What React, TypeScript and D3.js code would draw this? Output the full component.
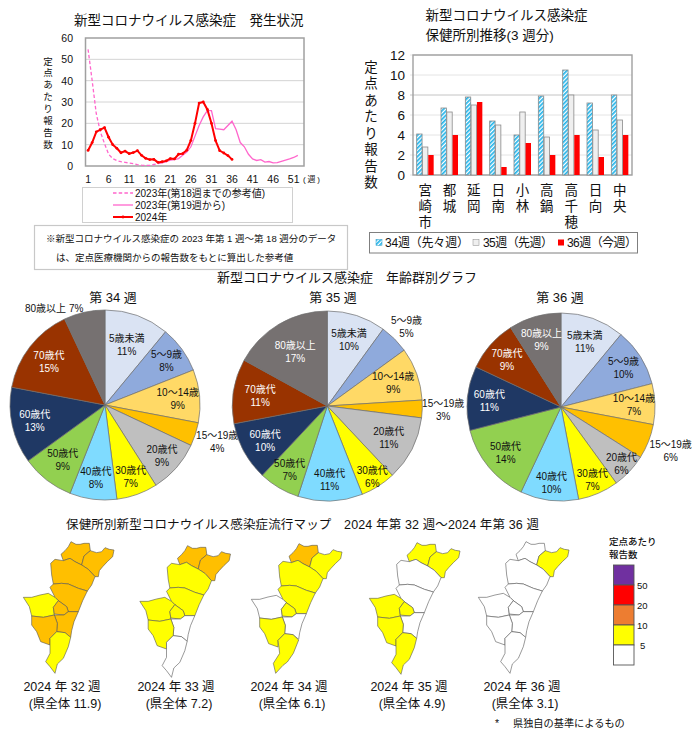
import React from "react";
import * as d3 from "d3";

const FONT = "'Liberation Sans', 'Noto Sans CJK JP', sans-serif";

// weekly counts
const weeks = d3.range(1, 54);
const tickWeeks = [1, 6, 11, 16, 21, 26, 31, 36, 41, 46, 51];
const lineTicks = [0, 10, 20, 30, 40, 50, 60];
const ref2023 = [54.7, 40, 24.5, 16, 10.5, 5.5, 3.5, 2.5, 2, 1.7, 1.4, 1.1, 0.6, 0.4, 0.3, 0.3, 0.7, 1.1];
// starts at week 18
const from2023 = [1.1, 1.5, 2, 2.8, 3, 3.5, 5, 6.5, 9, 14, 19, 23, 26, 26, 17.5, 17.3, 17, 19, 21, 17, 11, 9, 5.5, 3.3, 2.6, 3, 1.8, 2.1, 1.5, 1.6, 2.2, 2.8, 3.3, 4, 5];
const values2024 = [7.3, 11, 16, 17, 18, 13.5, 10, 8.3, 6.2, 7, 5.8, 6.3, 7.2, 5, 3.6, 3, 3.1, 1.7, 2, 2.4, 3.5, 3.3, 5.5, 5.8, 7.4, 12, 20, 29.5, 30, 26.5, 20, 11.9, 7.2, 6.1, 4.9, 3.1];

// health centres
const centres = ["宮崎市", "都城", "延岡", "日南", "小林", "高鍋", "高千穂", "日向", "中央"];
const barTicks = [0, 2, 4, 6, 8, 10, 12];
const week34 = [4.1, 6.7, 7.8, 5.4, 4, 7.9, 10.5, 7.2, 8];
const week35 = [2.8, 6.3, 7, 5, 6.3, 3.8, 8, 4.5, 5.5];
const week36 = [2, 4, 7.3, 0.8, 3.2, 2, 4, 1.8, 4];

// age groups
const ageGroups = ["5歳未満", "5～9歳", "10～14歳", "15～19歳", "20歳代", "30歳代", "40歳代", "50歳代", "60歳代", "70歳代", "80歳以上"];
const ageColors = ["#DAE3F3", "#8FAADC", "#FFD966", "#FFC000", "#BFBFBF", "#FFFF00", "#7FDBFF", "#92D050", "#1F3864", "#993300", "#767171"];
const agePct34 = [11, 8, 9, 4, 9, 7, 8, 9, 13, 15, 7];
const agePct35 = [10, 5, 9, 3, 11, 6, 11, 7, 10, 11, 17];
const agePct36 = [11, 10, 7, 6, 6, 7, 10, 14, 11, 9, 9];
const labelR34 = [64, 76, 73, 118, 76, 76, 73, 69, 72, 71, 0];
const labelR35 = [70, 112, 70, 116, 69, 84, 74, 74, 71, 68, 63];
const labelR36 = [70, 74, 73, 118, 83, 79, 76, 72, 72, 72, 70];

// map: outlines in crop pixels, 3 units to one screen pixel
const regionNames = ["高千穂", "延岡", "日向", "高鍋", "小林", "中央", "宮崎市", "都城", "日南"];
const regionOutlines: [number, number][][] = [
  [[183, 133], [195, 122], [205, 110], [213, 95], [228, 103], [240, 103], [252, 100], [268, 100], [271, 122], [252, 138], [245, 165], [225, 155], [210, 145], [190, 152]],
  [[271, 122], [290, 128], [305, 125], [315, 113], [328, 118], [342, 120], [338, 140], [322, 155], [308, 170], [298, 182], [295, 200], [285, 200], [265, 178], [245, 165], [252, 138]],
  [[152, 160], [165, 148], [190, 152], [210, 145], [225, 155], [245, 165], [265, 178], [285, 200], [275, 225], [262, 243], [235, 235], [205, 222], [185, 220], [160, 222], [155, 195]],
  [[150, 232], [160, 222], [185, 220], [205, 222], [235, 235], [262, 243], [248, 272], [235, 305], [205, 305], [200, 290], [175, 272], [165, 262]],
  [[70, 262], [95, 262], [120, 255], [145, 250], [165, 262], [175, 272], [160, 292], [163, 315], [130, 322], [95, 318], [88, 290]],
  [[175, 272], [200, 290], [205, 305], [192, 315], [163, 312], [160, 292]],
  [[163, 315], [192, 315], [205, 305], [235, 305], [222, 335], [215, 362], [212, 382], [195, 368], [170, 365], [172, 340]],
  [[95, 318], [130, 322], [163, 315], [172, 340], [170, 365], [150, 385], [150, 405], [122, 395], [110, 365], [95, 345]],
  [[170, 365], [195, 368], [212, 382], [205, 410], [190, 445], [172, 462], [165, 490], [150, 470], [137, 455], [150, 430], [150, 385]],
];
// week 34 map has the southern region drawn a little further west
const southAlt: [number, number][] = [[150, 385], [170, 365], [195, 368], [212, 384], [196, 424], [178, 450], [165, 460], [143, 484], [136, 454], [155, 424]];

// colour class index per region, same order as regionNames
const mapColors = ["#FFFFFF", "#FFFF00", "#FFBF00"];
const mapWeeks = [
  { line1: "2024 年 32 週", line2: "(県全体 11.9)", classes: [2, 2, 2, 2, 1, 2, 2, 2, 1] },
  { line1: "2024 年 33 週", line2: "(県全体 7.2)", classes: [2, 2, 1, 1, 1, 1, 0, 1, 0] },
  { line1: "2024 年 34 週", line2: "(県全体 6.1)", classes: [2, 1, 1, 1, 0, 1, 0, 1, 1] },
  { line1: "2024 年 35 週", line2: "(県全体 4.9)", classes: [1, 1, 0, 0, 1, 1, 0, 1, 1] },
  { line1: "2024 年 36 週", line2: "(県全体 3.1)", classes: [0, 1, 0, 0, 0, 0, 0, 0, 0] },
];
const mapDx = [0, 116.5, 228, 346, 455];
const mapDy = [0, 4, 2, 1, 0];
const captionX = [62, 176, 289, 409, 522];

const legendColors = ["#7030A0", "#FF0000", "#ED7D31", "#FFFF00", "#FFFFFF"];
const legendLabels = ["50", "20", "10", "5"];

const PINK = "#FF66CC";

function VerticalText({ text, x, y, step, size }: { text: string; x: number; y: number; step: number; size: number }) {
  return (
    <g fontSize={size} textAnchor="middle">
      {Array.from(text).map((c, i) => (
        <text key={i} x={x} y={y + i * step} dominantBaseline="central">{c}</text>
      ))}
    </g>
  );
}

function LineChart() {
  const x = d3.scaleBand<number>().domain(weeks).range([86, 304]);
  const y = d3.scaleLinear().domain([0, 60]).range([166, 38]);
  const cx = (w: number) => x(w)! + x.bandwidth() / 2;
  const line = d3.line<number>().x((_, i) => cx(i + 1)).y((d) => y(d));
  const lineFrom = d3.line<number>().x((_, i) => cx(i + 18)).y((d) => y(d));
  return (
    <g>
      <text x={74} y={20} fontSize={13.5} dominantBaseline="central">新型コロナウイルス感染症　発生状況</text>
      {lineTicks.map((t) => (
        <g key={t}>
          {t > 0 && t < 60 && <line x1={86} x2={304} y1={y(t)} y2={y(t)} stroke="#d4d4d4" strokeWidth={1} />}
          <text x={73} y={y(t)} fontSize={10.5} textAnchor="end" dominantBaseline="central">{t}</text>
        </g>
      ))}
      <rect x={85.5} y={38} width={218.5} height={128} fill="none" stroke="#a0a0a0" strokeWidth={1.5} />
      {tickWeeks.map((w) => (
        <text key={w} x={cx(w)} y={179} fontSize={10.5} textAnchor="middle" dominantBaseline="central">{w}</text>
      ))}
      <text x={303} y={179} fontSize={8} dominantBaseline="central" textLength={17}>(週)</text>
      <path d={line(ref2023)!} fill="none" stroke={PINK} strokeWidth={1.3} strokeDasharray="3.5 2.2" />
      <path d={lineFrom(from2023)!} fill="none" stroke={PINK} strokeWidth={1.3} />
      <path d={line(values2024)!} fill="none" stroke="#FF0000" strokeWidth={2} />
      {values2024.map((v, i) => (
        <circle key={i} cx={cx(i + 1)} cy={y(v)} r={1.4} fill="#FF0000" />
      ))}
      <VerticalText text="定点あたり報告数" x={48} y={61} step={11.9} size={9.5} />
      <rect x={82.5} y={187.5} width={210} height={35} fill="#fff" stroke="#d0d0d0" strokeWidth={1} />
      <line x1={113} x2={133} y1={193} y2={193} stroke={PINK} strokeWidth={1.3} strokeDasharray="3.5 2.2" />
      <line x1={113} x2={133} y1={205} y2={205} stroke={PINK} strokeWidth={1.3} />
      <line x1={113} x2={133} y1={217} y2={217} stroke="#FF0000" strokeWidth={2} />
      <circle cx={123} cy={217} r={1.4} fill="#FF0000" />
      <g fontSize={10} dominantBaseline="central">
        <text x={135} y={193}>2023年(第18週までの参考値)</text>
        <text x={135} y={205}>2023年(第19週から)</text>
        <text x={135} y={217}>2024年</text>
      </g>
      <rect x={34.5} y={225.5} width={313} height={44} fill="#fff" stroke="#c8c8c8" strokeWidth={1.2} />
      <g fontSize={9.5} dominantBaseline="central">
        <text x={46} y={238}>※新型コロナウイルス感染症の 2023 年第 1 週～第 18 週分のデータ</text>
        <text x={56} y={257}>は、定点医療機関からの報告数をもとに算出した参考値</text>
      </g>
    </g>
  );
}

function BarChart() {
  const x = d3.scaleBand<string>().domain(centres).range([413, 632]);
  const y = d3.scaleLinear().domain([0, 12]).range([175, 55]);
  const series = [
    { values: week34, fill: "url(#hatch)", stroke: "#8a8a8a" },
    { values: week35, fill: "#EFEFEF", stroke: "#8a8a8a" },
    { values: week36, fill: "#FF0000", stroke: "none" },
  ];
  return (
    <g>
      <defs>
        <pattern id="hatch" width={3} height={3} patternUnits="userSpaceOnUse" patternTransform="rotate(45)">
          <rect width={3} height={3} fill="#fff" />
          <rect width={1.7} height={3} fill="#22B4EA" />
        </pattern>
      </defs>
      <g fontSize={13.5} dominantBaseline="central">
        <text x={425.5} y={15}>新型コロナウイルス感染症</text>
        <text x={425.5} y={35}>保健所別推移(3 週分)</text>
      </g>
      {barTicks.map((t) => (
        <g key={t}>
          <line x1={410} x2={632} y1={y(t)} y2={y(t)} stroke={t === 8 ? "#c4c4c4" : "#e4e4e4"} strokeWidth={1} />
          <text x={405} y={y(t)} fontSize={13.5} textAnchor="end" dominantBaseline="central">{t}</text>
        </g>
      ))}
      <rect x={413} y={55} width={219} height={120} fill="none" stroke="#a0a0a0" strokeWidth={1.4} />
      {centres.map((c, i) => {
        const x0 = x(c)! + x.bandwidth() / 2 - 8.5;
        return (
          <g key={c}>
            {series.map((s, j) => (
              <rect key={j} x={x0 + j * 5.8} y={y(s.values[i])} width={5.4} height={175 - y(s.values[i])} fill={s.fill} stroke={s.stroke} strokeWidth={0.8} />
            ))}
            <VerticalText text={c} x={x(c)! + x.bandwidth() / 2} y={190} step={16.3} size={13.5} />
          </g>
        );
      })}
      <VerticalText text="定点あたり報告数" x={371} y={67} step={16.5} size={13.5} />
      <rect x={369.5} y={232.5} width={268} height={20.5} fill="#fff" stroke="#7f7f7f" strokeWidth={1} />
      <rect x={376} y={239.5} width={6} height={6} fill="url(#hatch)" stroke="#2E9BC6" strokeWidth={0.5} />
      <rect x={473} y={239.5} width={6} height={6} fill="#EFEFEF" stroke="#8a8a8a" strokeWidth={0.5} />
      <rect x={558} y={239.5} width={6} height={6} fill="#FF0000" />
      <g fontSize={12} dominantBaseline="central">
        <text x={385} y={243} textLength={84}>34週（先々週）</text>
        <text x={483} y={243} textLength={70}>35週（先週）</text>
        <text x={567} y={243} textLength={70}>36週（今週）</text>
      </g>
    </g>
  );
}

function AgePie({ cx, cy, r, title, titleX, pct, labelR }: { cx: number; cy: number; r: number; title: string; titleX: number; pct: number[]; labelR: number[] }) {
  const arcs = d3.pie<number>().sort(null)(pct);
  const arc = d3.arc<d3.PieArcDatum<number>>().innerRadius(0).outerRadius(r);
  return (
    <g>
      <text x={titleX} y={297} fontSize={13} textAnchor="middle" dominantBaseline="central">{title}</text>
      <g transform={`translate(${cx},${cy})`}>
        {arcs.map((a, i) => (
          <path key={i} d={arc(a)!} fill={ageColors[i]} stroke="#6e6e6e" strokeWidth={0.7} />
        ))}
        {arcs.map((a, i) => {
          if (labelR[i] === 0) return null;
          const [lx, ly] = d3.arc<d3.PieArcDatum<number>>().innerRadius(labelR[i]).outerRadius(labelR[i]).centroid(a);
          const fill = i >= 8 && labelR[i] < r ? "#fff" : "#111";
          return (
            <text key={i} fontSize={10} textAnchor="middle" fill={fill} dominantBaseline="central">
              <tspan x={lx} y={ly - 6.5}>{ageGroups[i]}</tspan>
              <tspan x={lx} y={ly + 6.5}>{pct[i]}%</tspan>
            </text>
          );
        })}
      </g>
    </g>
  );
}

function Maps() {
  const sx = d3.scaleLinear().domain([0, 720]).range([0, 240]);
  const sy = d3.scaleLinear().domain([0, 681]).range([510, 737]);
  const outline = d3.line<[number, number]>().x((d) => sx(d[0])).y((d) => sy(d[1]));
  return (
    <g>
      <text x={66} y={525} fontSize={12.5} dominantBaseline="central" textLength={473}>保健所別新型コロナウイルス感染症流行マップ　2024 年第 32 週～2024 年第 36 週</text>
      {mapWeeks.map((m, i) => (
        <g key={i}>
          <g transform={`translate(${mapDx[i]},${mapDy[i]})`}>
            {regionOutlines.map((pts, j) => (
              <path key={regionNames[j]} d={outline(i === 2 && j === 8 ? southAlt : pts)! + "Z"} fill={mapColors[m.classes[j]]} stroke="#555" strokeWidth={0.6} strokeLinejoin="round" />
            ))}
          </g>
          <g fontSize={12.5} textAnchor="middle" dominantBaseline="central">
            <text x={captionX[i]} y={687}>{m.line1}</text>
            <text x={captionX[i] + 3} y={704}>{m.line2}</text>
          </g>
        </g>
      ))}
      <text x={495} y={723} fontSize={10.5} dominantBaseline="central">*</text>
      <text x={513} y={723} fontSize={10.2} dominantBaseline="central">県独自の基準によるもの</text>
      <g fontSize={9.5} fontWeight={500} dominantBaseline="central">
        <text x={609} y={541}>定点あたり</text>
        <text x={609} y={554}>報告数</text>
      </g>
      {legendColors.map((c, i) => (
        <rect key={c} x={613.5} y={565 + i * 20} width={20.5} height={20} fill={c} stroke="#555" strokeWidth={0.9} />
      ))}
      {legendLabels.map((l, i) => (
        <text key={l} x={l === "5" ? 640 : 637} y={585 + i * 20} fontSize={9.5} fontWeight={500} dominantBaseline="central">{l}</text>
      ))}
    </g>
  );
}

export default function App() {
  return (
    <svg width={700} height={737} viewBox="0 0 700 737" style={{ position: "absolute", left: 0, top: 0, background: "#fff" }} fontFamily={FONT} fill="#111">
      <LineChart />
      <BarChart />
      <text x={217} y={277} fontSize={13} dominantBaseline="central">新型コロナウイルス感染症　年齢群別グラフ</text>
      <AgePie cx={105} cy={405} r={95} title="第 34 週" titleX={113} pct={agePct34} labelR={labelR34} />
      <text x={25} y={308} fontSize={10} dominantBaseline="central">80歳以上 7%</text>
      <AgePie cx={327.3} cy={406} r={95} title="第 35 週" titleX={333} pct={agePct35} labelR={labelR35} />
      <AgePie cx={561} cy={407} r={94} title="第 36 週" titleX={560} pct={agePct36} labelR={labelR36} />
      <Maps />
    </svg>
  );
}
